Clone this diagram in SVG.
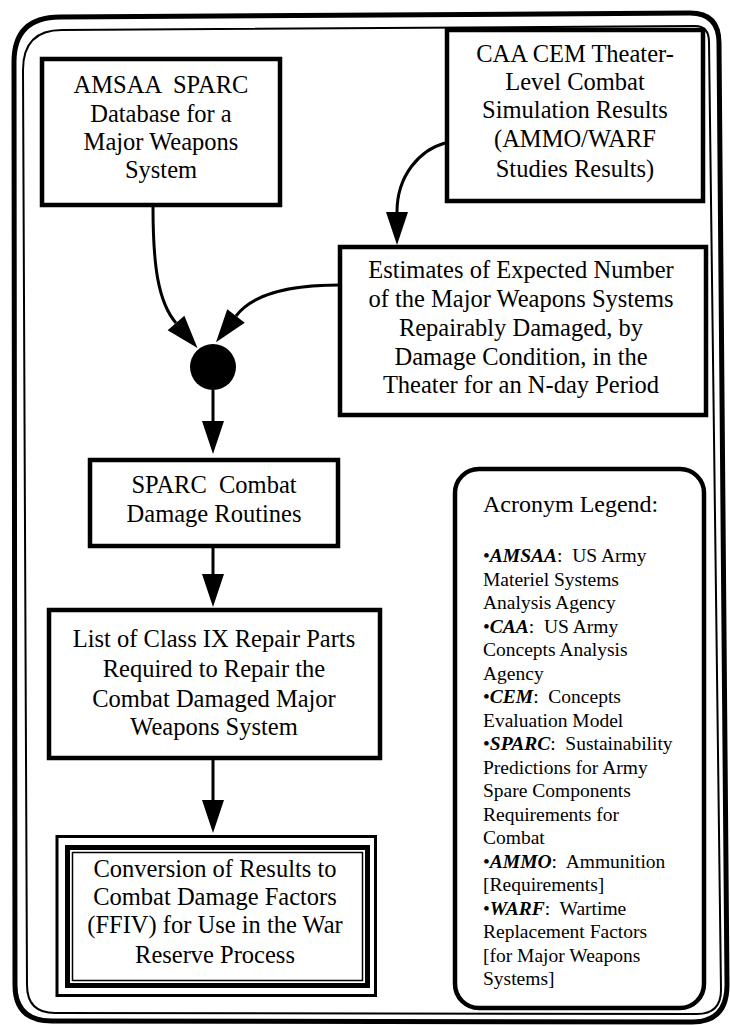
<svg xmlns="http://www.w3.org/2000/svg" width="730" height="1025" viewBox="0 0 730 1025">
<defs>
<style>
.frame{fill:none;stroke:#000}
.box{fill:#fff;stroke:#000;stroke-width:4.5}
.t{font-family:"Liberation Serif","Times New Roman",serif;font-size:24.5px;text-anchor:middle;fill:#000;white-space:pre}
.lg{font-family:"Liberation Serif","Times New Roman",serif;font-size:19.5px;fill:#000;white-space:pre}
.lh{font-family:"Liberation Serif","Times New Roman",serif;font-size:24px;fill:#000}
.bi{font-weight:bold;font-style:italic}
.c{fill:none;stroke:#000;stroke-width:3}
</style>
<marker id="ah" markerUnits="userSpaceOnUse" markerWidth="34" markerHeight="24" refX="0" refY="11" orient="auto" overflow="visible">
<path d="M0,0 L33,11 L0,22 Z" fill="#000"/>
</marker>
</defs>
<rect width="730" height="1025" fill="#fff"/>
<g id="frame">
<path class="frame" stroke-width="5" d="M 60,17 L 690,13 Q 719,13 719,43 L 727,985 Q 727,1022 692,1022 L 52,1021 Q 15,1021 15,985 L 14,62 Q 14,17 60,17 Z"/>
<path class="frame" stroke-width="2" d="M 62,30 L 695,26 Q 709,26 709,42 L 721,990 Q 721,1014 697,1014 L 55,1013 Q 27,1013 27,985 L 23,70 Q 23,30 62,30 Z"/>
</g>
<g id="connectors">
<path class="c" d="M153,207 C153,265 158,302 176,323" marker-end="url(#ah)"/>
<path class="c" d="M340,285 C285,285 252,295 236,316" marker-end="url(#ah)"/>
<path class="c" d="M445,143 C420,150 397,175 397,212" marker-end="url(#ah)"/>
<path class="c" d="M213,390 L213,421" marker-end="url(#ah)"/>
<path class="c" d="M213,548 L213,574" marker-end="url(#ah)"/>
<path class="c" d="M213,760 L213,800" marker-end="url(#ah)"/>
</g>
<g id="amsaa">
<rect class="box" x="42" y="59" width="238" height="146"/>
<text class="t" x="161" y="93">AMSAA  SPARC</text>
<text class="t" x="161" y="122">Database for a</text>
<text class="t" x="161" y="150">Major Weapons</text>
<text class="t" x="161" y="178">System</text>
</g>
<g id="caa">
<rect class="box" x="447" y="30" width="256" height="171"/>
<text class="t" x="575" y="62">CAA CEM Theater-</text>
<text class="t" x="575" y="90">Level Combat</text>
<text class="t" x="575" y="118">Simulation Results</text>
<text class="t" x="575" y="147">(AMMO/WARF</text>
<text class="t" x="575" y="177">Studies Results)</text>
</g>
<g id="estimates">
<rect class="box" x="340" y="247" width="366" height="168"/>
<text class="t" x="521" y="278">Estimates of Expected Number</text>
<text class="t" x="521" y="307">of the Major Weapons Systems</text>
<text class="t" x="521" y="336">Repairably Damaged, by</text>
<text class="t" x="521" y="365">Damage Condition, in the</text>
<text class="t" x="521" y="393">Theater for an N-day Period</text>
</g>
<g id="junction">
<circle cx="213" cy="367" r="23" fill="#000"/>
</g>
<g id="sparc">
<rect class="box" x="90" y="460" width="248" height="86"/>
<text class="t" x="214" y="493">SPARC  Combat</text>
<text class="t" x="214" y="522">Damage Routines</text>
</g>
<g id="list">
<rect class="box" x="49" y="610" width="331" height="148"/>
<text class="t" x="214" y="647">List of Class IX Repair Parts</text>
<text class="t" x="214" y="677">Required to Repair the</text>
<text class="t" x="214" y="707">Combat Damaged Major</text>
<text class="t" x="214" y="735">Weapons System</text>
</g>
<g id="conversion">
<rect x="57" y="836.5" width="318.5" height="159" fill="#fff" stroke="#000" stroke-width="3"/>
<rect x="67.5" y="847.5" width="300" height="138" fill="none" stroke="#000" stroke-width="5"/>
<rect x="72.5" y="852.5" width="290" height="128" fill="none" stroke="#000" stroke-width="1.5"/>
<text class="t" x="215" y="877">Conversion of Results to</text>
<text class="t" x="215" y="905">Combat Damage Factors</text>
<text class="t" x="215" y="933">(FFIV) for Use in the War</text>
<text class="t" x="215" y="963">Reserve Process</text>
</g>
<g id="legend">
<rect class="box" x="455" y="469" width="249" height="539" rx="24"/>
<text class="lh" x="483" y="512">Acronym Legend:</text>
<text class="lg" x="483" y="562">•<tspan class="bi">AMSAA</tspan>:  US Army</text>
<text class="lg" x="483" y="585.5">Materiel Systems</text>
<text class="lg" x="483" y="609">Analysis Agency</text>
<text class="lg" x="483" y="632.5">•<tspan class="bi">CAA</tspan>:  US Army</text>
<text class="lg" x="483" y="656">Concepts Analysis</text>
<text class="lg" x="483" y="679.5">Agency</text>
<text class="lg" x="483" y="703">•<tspan class="bi">CEM</tspan>:  Concepts</text>
<text class="lg" x="483" y="726.5">Evaluation Model</text>
<text class="lg" x="483" y="750">•<tspan class="bi">SPARC</tspan>:  Sustainability</text>
<text class="lg" x="483" y="773.5">Predictions for Army</text>
<text class="lg" x="483" y="797">Spare Components</text>
<text class="lg" x="483" y="820.5">Requirements for</text>
<text class="lg" x="483" y="844">Combat</text>
<text class="lg" x="483" y="867.5">•<tspan class="bi">AMMO</tspan>:  Ammunition</text>
<text class="lg" x="483" y="891">[Requirements]</text>
<text class="lg" x="483" y="914.5">•<tspan class="bi">WARF</tspan>:  Wartime</text>
<text class="lg" x="483" y="938">Replacement Factors</text>
<text class="lg" x="483" y="961.5">[for Major Weapons</text>
<text class="lg" x="483" y="985">Systems]</text>
</g>
</svg>
